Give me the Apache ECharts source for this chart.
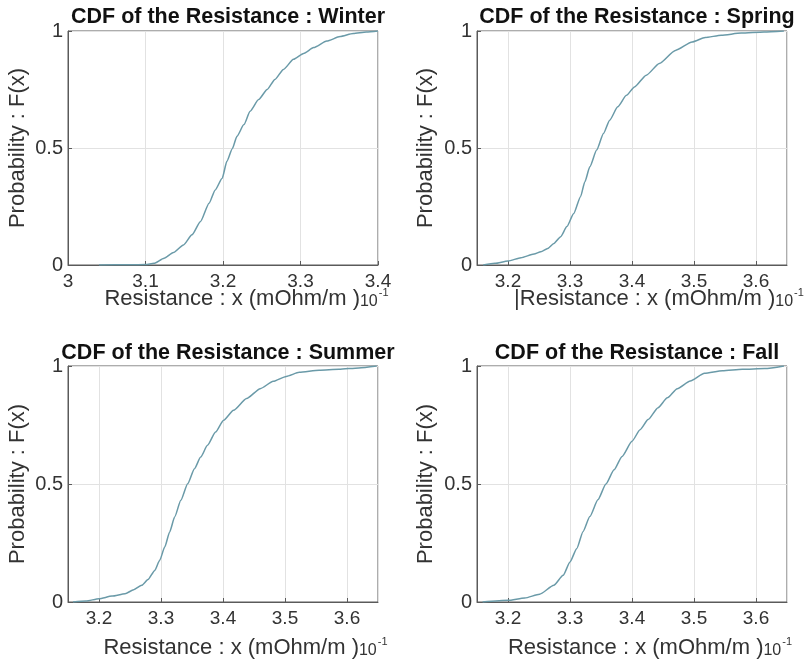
<!DOCTYPE html>
<html>
<head>
<meta charset="utf-8">
<script src="https://cdn.jsdelivr.net/npm/echarts@6/dist/echarts.min.js"></script>
<style>
html,body{margin:0;padding:0;background:#fff;}
#c{width:807px;height:666px;}
</style>
</head>
<body>
<div id="c"></div>
<script>
// ---- data ----
var titles = ['CDF of the Resistance : Winter', 'CDF of the Resistance : Spring', 'CDF of the Resistance : Summer', 'CDF of the Resistance : Fall'];
var xLabelPrefix = ['', '|', '', ''];
var xMins = [3.0, 3.15, 3.15, 3.15];
var xMaxs = [3.4, 3.65, 3.65, 3.65];
var yTicks = [0, 0.5, 1];

var winterX = [3.04, 3.081, 3.100, 3.111, 3.124, 3.136, 3.149, 3.160, 3.171, 3.182, 3.190, 3.199, 3.205, 3.212, 3.218, 3.227, 3.235, 3.246, 3.257, 3.267, 3.278, 3.291, 3.304, 3.317, 3.334, 3.351, 3.368, 3.385, 3.4];
var winterY = [0, 0.001, 0.002, 0.007, 0.029, 0.053, 0.086, 0.129, 0.186, 0.264, 0.321, 0.371, 0.443, 0.497, 0.550, 0.600, 0.657, 0.707, 0.750, 0.793, 0.836, 0.879, 0.904, 0.929, 0.957, 0.976, 0.989, 0.996, 1];

var springX = [3.160, 3.179, 3.200, 3.221, 3.242, 3.253, 3.264, 3.274, 3.285, 3.295, 3.306, 3.317, 3.324, 3.332, 3.343, 3.354, 3.364, 3.377, 3.391, 3.404, 3.423, 3.444, 3.470, 3.497, 3.518, 3.544, 3.576, 3.613, 3.645];
var springY = [0, 0.007, 0.017, 0.031, 0.047, 0.057, 0.071, 0.092, 0.121, 0.164, 0.220, 0.292, 0.356, 0.420, 0.491, 0.562, 0.619, 0.676, 0.725, 0.761, 0.811, 0.861, 0.917, 0.953, 0.972, 0.982, 0.991, 0.996, 1];

var summerX = [3.158, 3.179, 3.200, 3.221, 3.242, 3.256, 3.269, 3.279, 3.290, 3.298, 3.306, 3.314, 3.322, 3.332, 3.343, 3.354, 3.364, 3.375, 3.388, 3.401, 3.417, 3.438, 3.460, 3.481, 3.502, 3.523, 3.555, 3.587, 3.619, 3.648];
var summerY = [0, 0.004, 0.014, 0.025, 0.035, 0.052, 0.071, 0.095, 0.134, 0.177, 0.233, 0.297, 0.360, 0.431, 0.501, 0.565, 0.614, 0.664, 0.720, 0.770, 0.812, 0.862, 0.904, 0.935, 0.956, 0.973, 0.982, 0.986, 0.992, 1];

var fallX = [3.159, 3.200, 3.227, 3.251, 3.274, 3.289, 3.300, 3.311, 3.321, 3.332, 3.345, 3.358, 3.371, 3.384, 3.400, 3.413, 3.426, 3.442, 3.457, 3.473, 3.494, 3.517, 3.546, 3.578, 3.614, 3.645];
var fallY = [0, 0.007, 0.017, 0.033, 0.071, 0.113, 0.170, 0.227, 0.298, 0.362, 0.433, 0.500, 0.560, 0.617, 0.681, 0.730, 0.773, 0.823, 0.865, 0.904, 0.936, 0.969, 0.980, 0.986, 0.989, 1];

var seriesX = [winterX, springX, summerX, fallX];
var seriesY = [winterY, springY, summerY, fallY];

// ---- layout ----
var grids = [
  {left: 68, top: 31, width: 310, height: 234},
  {left: 477, top: 31, width: 310, height: 234},
  {left: 68, top: 366, width: 310, height: 236},
  {left: 477, top: 366, width: 310, height: 236}
];
var titleTops = [1, 1, 337, 337];
var xNameShift = [47, 54, 45, 36];
var xNameGap = [22, 22, 34, 34];
var yNameGap = [39, 40, 39, 40];

var FONT = 'Liberation Sans, Arial, sans-serif';
var option = {
  backgroundColor: '#fff',
  animation: false,
  title: [], grid: [], xAxis: [], yAxis: [], series: []
};

for (var i = 0; i < 4; i++) {
  var g = grids[i];
  option.grid.push({left: g.left, top: g.top, width: g.width, height: g.height,
    show: true, borderColor: '#5a5a5a', borderWidth: 1, containLabel: false});
  option.title.push({
    text: titles[i], left: g.left + g.width / 2, top: titleTops[i], textAlign: 'center',
    textStyle: {fontFamily: FONT, fontWeight: 'bold', fontSize: 21.5, color: '#111'}
  });
  option.xAxis.push({
    type: 'value', gridIndex: i, min: xMins[i], max: xMaxs[i],
    name: '{m|' + xLabelPrefix[i] + 'Resistance : x (mOhm/m )}{s|10}{p|-1}',
    nameLocation: 'middle', nameGap: xNameGap[i], nameMoveOverlap: false,
    nameTextStyle: {
      padding: [0, 0, 0, xNameShift[i]],
      rich: {
        m: {fontFamily: FONT, fontSize: 22, color: '#333'},
        s: {fontFamily: FONT, fontSize: 16, color: '#333', padding: [7, 0, 0, 0]},
        p: {fontFamily: FONT, fontSize: 11, color: '#333', padding: [0, 0, 12, 1]}
      }
    },
    axisLine: {show: true, lineStyle: {color: '#5a5a5a'}},
    axisTick: {show: true, inside: true, length: 4, lineStyle: {color: '#5a5a5a'}},
    axisLabel: {show: true, showMinLabel: i === 0, showMaxLabel: i === 0, margin: 7,
      fontFamily: FONT, fontSize: 19, color: '#333'},
    splitLine: {show: true, lineStyle: {color: '#e2e2e2', width: 1}}
  });
  option.yAxis.push({
    type: 'value', gridIndex: i, min: yTicks[0], max: yTicks[yTicks.length - 1], interval: yTicks[1] - yTicks[0],
    name: 'Probability : F(x)', nameLocation: 'middle', nameRotate: 90, nameGap: yNameGap[i], nameMoveOverlap: false,
    nameTextStyle: {fontFamily: FONT, fontSize: 22, color: '#333'},
    axisLine: {show: true, lineStyle: {color: '#5a5a5a'}},
    axisTick: {show: true, inside: true, length: 4, lineStyle: {color: '#5a5a5a'}},
    axisLabel: {show: true, margin: 5, fontFamily: FONT, fontSize: 20, color: '#333'},
    splitLine: {show: true, lineStyle: {color: '#e2e2e2', width: 1}}
  });
  var d = [];
  for (var k = 0; k < seriesX[i].length; k++) d.push([seriesX[i][k], seriesY[i][k]]);
  option.series.push({
    type: 'line', xAxisIndex: i, yAxisIndex: i, data: d, showSymbol: false,
    smooth: 0.2, smoothMonotone: 'x',
    lineStyle: {color: '#6a9aa8', width: 1.5}, z: 3
  });
}

var chart = echarts.init(document.getElementById('c'), null, {renderer: 'canvas'});
chart.setOption(option);
</script>
</body>
</html>
